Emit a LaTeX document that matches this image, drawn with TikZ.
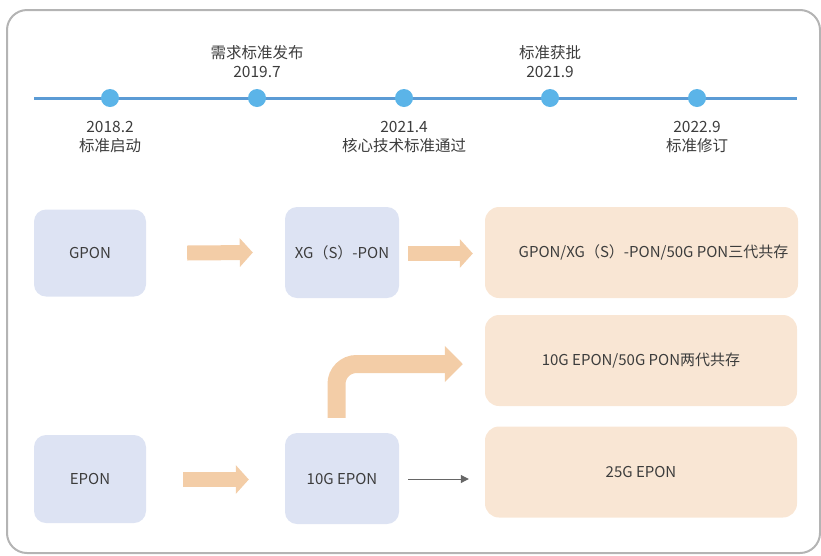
\documentclass[tikz,border=0pt]{standalone}
\usepackage{fontspec}
\setmainfont{Noto Sans CJK SC}
\usetikzlibrary{arrows.meta}
\definecolor{framegray}{HTML}{B4B4B4}
\definecolor{lineblue}{HTML}{5B9BD5}
\definecolor{dotblue}{HTML}{5BB4E8}
\definecolor{boxblue}{HTML}{DDE3F3}
\definecolor{boxorange}{HTML}{F9E6D4}
\definecolor{arroworange}{HTML}{F3CDA7}
\definecolor{txt}{HTML}{3C3C3C}
\definecolor{thingray}{HTML}{666666}
\tikzset{
  every node/.style={text=txt, font=\fontsize{15}{19}\selectfont},
  bluebox/.style={fill=boxblue, rounded corners=12pt, inner sep=0pt},
  orangebox/.style={fill=boxorange, rounded corners=14pt, inner sep=0pt},
  fatarrow/.style={draw=arroworange, line width=15pt, line cap=butt,
    -{Triangle[length=13pt,width=28pt]}},
  thinarrow/.style={draw=thingray, line width=1pt,
    -{Triangle[length=8pt,width=8pt]}},
  dot/.style={circle, fill=dotblue, minimum size=18pt, inner sep=0pt},
  lbl/.style={align=center, inner sep=0pt, font=\fontsize{15.5}{19}\selectfont},
}
\begin{document}
\begin{tikzpicture}[x=1pt,y=-1pt]
\useasboundingbox (0,0) rectangle (821,555);
% frame
\draw[framegray, line width=2pt, rounded corners=20pt] (7,10) rectangle (820,553);
% timeline
\coordinate (tls) at (34,98);
\coordinate (tle) at (797,98);
\draw[lineblue, line width=3pt] (tls) -- (tle);
\node[dot] (d1) at (110,98) {};
\node[dot] (d2) at (257,98) {};
\node[dot] (d3) at (404,98) {};
\node[dot] (d4) at (550,98) {};
\node[dot] (d5) at (697,98) {};
\node[lbl] (t1) at (110,137) {2018.2\\标准启动};
\node[lbl] (t2) at (257,62) {需求标准发布\\2019.7};
\node[lbl] (t3) at (404,137) {2021.4\\核心技术标准通过};
\node[lbl] (t4) at (550,62) {标准获批\\2021.9};
\node[lbl] (t5) at (697,137) {2022.9\\标准修订};
% boxes
\node[bluebox, minimum width=112pt, minimum height=87pt] (gpon) at (90,253) {GPON};
\node[bluebox, minimum width=114pt, minimum height=91pt] (xg) at (342,252.5) {XG（S）-PON};
\node[orangebox, minimum width=313pt, minimum height=91pt] (b1) at (641.5,252.5) {\hspace{24pt}GPON/XG（S）-PON/50G PON三代共存};
\node[orangebox, minimum width=312pt, minimum height=91pt] (b2) at (641,360.5) {10G EPON/50G PON两代共存};
\node[orangebox, minimum width=312pt, minimum height=91pt] (b3) at (641,472) {25G EPON};
\node[bluebox, minimum width=112pt, minimum height=88pt] (epon) at (90,479) {EPON};
\node[bluebox, minimum width=114pt, minimum height=91pt] (tenG) at (342,478.5) {10G EPON};
% arrows
\draw[fatarrow] ([xshift=41pt]gpon.east) -- ([xshift=-32pt]xg.west);
\draw[fatarrow] ([xshift=9pt,yshift=-1pt]xg.east) -- ([xshift=-12pt,yshift=-1pt]b1.west);
\draw[fatarrow] ([xshift=37pt,yshift=-0.5pt]epon.east) -- ([xshift=-36pt,yshift=-1pt]tenG.west);
\draw[thinarrow] ([xshift=9pt,yshift=-0.5pt]tenG.east) -- ([xshift=-16pt,yshift=-7pt]b3.west);
\draw[fatarrow, line width=18pt, rounded corners=20pt,
  -{Triangle[length=18pt,width=35pt]}]
  ([xshift=-5.5pt,yshift=15pt]tenG.north) |- ([xshift=-22pt,yshift=-3.5pt]b2.west);
\end{tikzpicture}
\end{document}
